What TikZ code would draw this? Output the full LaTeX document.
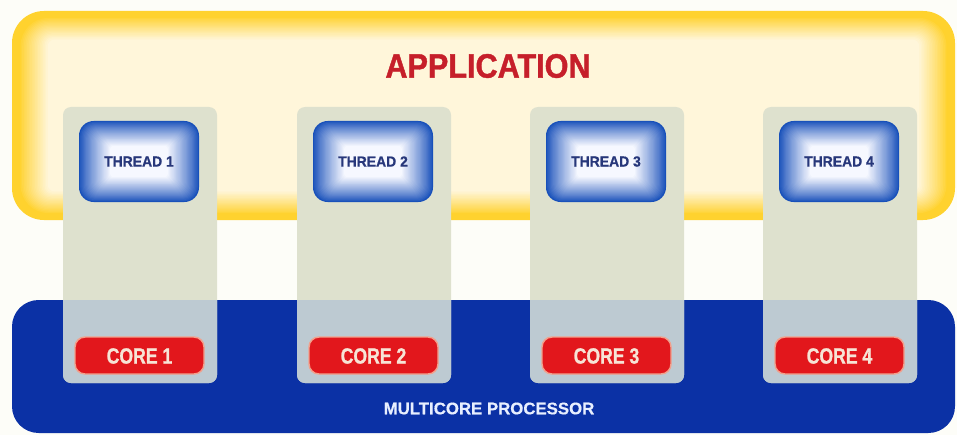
\documentclass[tikz,border=0pt]{standalone}
\usepackage{fontspec}
\setmainfont{Liberation Sans}
\newfontfamily\appfont[FakeStretch=0.9, FakeBold=1.2, UprightFont={Liberation Sans Bold}]{Liberation Sans}
\newfontfamily\corefont[FakeStretch=0.8, FakeBold=1, UprightFont={Liberation Sans Bold}]{Liberation Sans}
\newfontfamily\threadfont[FakeStretch=0.95, FakeBold=0.6, UprightFont={Liberation Sans Bold}]{Liberation Sans}
\newfontfamily\procfont[FakeStretch=1.0, FakeBold=0.6, UprightFont={Liberation Sans Bold}]{Liberation Sans}
\definecolor{bgc}{HTML}{FDFDF8}
\definecolor{appyellow}{HTML}{FFD22E}
\definecolor{appcream}{HTML}{FFF6DA}
\definecolor{procblue}{HTML}{0B31A5}
\definecolor{panelup}{HTML}{DEE1CE}
\definecolor{paneldown}{HTML}{BDCAD2}
\definecolor{thrblue}{HTML}{1850BA}
\definecolor{thrcenter}{HTML}{F6F8FF}
\definecolor{thrtext}{HTML}{27377A}
\definecolor{corered}{HTML}{E2171C}
\definecolor{coreedge}{HTML}{F2A08C}
\definecolor{coretext}{HTML}{F7E4D6}
\definecolor{apptext}{HTML}{C61F2A}
\definecolor{proctext}{HTML}{E8EFFF}
\tikzset{
  apptitle/.style={font=\appfont\fontsize{25.5pt}{26pt}\selectfont, text=apptext, inner sep=0pt},
  proctitle/.style={font=\procfont\fontsize{12.6pt}{13pt}\selectfont, text=proctext, inner sep=0pt},
  threadlabel/.style={font=\threadfont\fontsize{11pt}{12pt}\selectfont, text=thrtext, inner sep=0pt},
  corelabel/.style={font=\corefont\fontsize{16.5pt}{18pt}\selectfont, text=coretext, inner sep=0pt},
  corebox/.style={fill=corered, draw=coreedge, line width=1.1pt, rounded corners=7.5pt},
}
\begin{document}
\begin{tikzpicture}[x=0.75pt,y=-0.75pt]
\fill[bgc] (0,0) rectangle (957,435);
\useasboundingbox (0,0) rectangle (957,435);
% application box: yellow rim fading to cream
\fill[appyellow, rounded corners=24pt] (12,11) rectangle (955,220);
\foreach \i in {0,...,18}{
  \pgfmathsetmacro{\d}{7+\i*1.6}
  \pgfmathsetmacro{\p}{100*(\i/18)^0.9}
  \pgfmathsetmacro{\r}{max(22-\i*1.0,5)}
  \fill[appcream!\p!appyellow, rounded corners=\r pt] (12+\d,11+\d*0.8) rectangle (955-\d,220-\d*0.8);
}
\node[apptitle] (app) at (488,66) {APPLICATION};
% processor box
\fill[procblue, rounded corners=20pt] (12,300) rectangle (955,433);
\node[proctitle] (proc) at (489,408.5) {MULTICORE PROCESSOR};
% columns
\foreach \k/\x in {1/63,2/297,3/530,4/763}{
  \fill[panelup, rounded corners=6pt] (\x,107) rectangle (\x+154,383);
  \begin{scope}
    \clip (0,300) rectangle (957,435);
    \fill[paneldown, rounded corners=6pt] (\x,107) rectangle (\x+154,383);
  \end{scope}
  % thread box
  \foreach \j in {0,...,26}{
    \pgfmathsetmacro{\d}{\j*1.2}
    \pgfmathsetmacro{\p}{100*(\j/26)^0.85}
    \pgfmathsetmacro{\r}{max(11-\j*0.4,2)}
    \fill[thrcenter!\p!thrblue, rounded corners=\r pt] (\x+16+\d,121+\d*0.8) rectangle (\x+136-\d,202-\d*0.8);
  }
  \node[threadlabel] (thread\k) at (\x+76,161.5) {THREAD \k};
  % core box
  \path[corebox] (\x+12,337) rectangle (\x+141,374);
  \node[corelabel] (core\k) at (\x+76.5,356) {CORE \k};
}
\end{tikzpicture}
\end{document}
